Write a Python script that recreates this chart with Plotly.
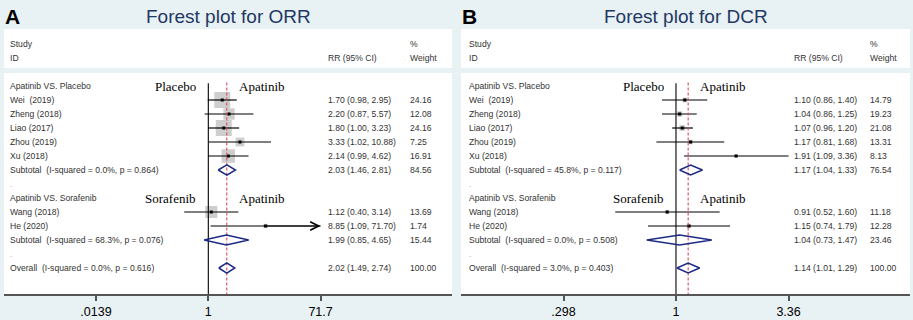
import math
import plotly.graph_objects as go

# ---------------- data ----------------
group_labels = ["Apatinib VS. Placebo", "Apatinib VS. Sorafenib"]
comparators = ["Placebo", "Sorafenib"]
treatment = "Apatinib"
group_sizes = [5, 2]
studies = ["Wei  (2019)", "Zheng (2018)", "Liao (2017)", "Zhou (2019)", "Xu (2018)",
           "Wang (2018)", "He (2020)"]

# ORR
orr_rr = [1.70, 2.20, 1.80, 3.33, 2.14, 1.12, 8.85]
orr_lo = [0.98, 0.87, 1.00, 1.02, 0.99, 0.40, 1.09]
orr_hi = [2.95, 5.57, 3.23, 10.88, 4.62, 3.14, 71.70]
orr_truncated = [0, 0, 0, 0, 0, 0, 1]
orr_w = [24.16, 12.08, 24.16, 7.25, 16.91, 13.69, 1.74]
orr_sub_het = ["Subtotal  (I-squared = 0.0%, p = 0.864)", "Subtotal  (I-squared = 68.3%, p = 0.076)"]
orr_sub_rr = [2.03, 1.99]
orr_sub_lo = [1.46, 0.85]
orr_sub_hi = [2.81, 4.65]
orr_sub_w = [84.56, 15.44]
orr_all_het = "Overall  (I-squared = 0.0%, p = 0.616)"
orr_all = [2.02, 1.49, 2.74, 100.00]
orr_ticks = [0.0139, 1, 71.7]
orr_ticktext = [".0139", "1", "71.7"]

# DCR
dcr_rr = [1.10, 1.04, 1.07, 1.17, 1.91, 0.91, 1.15]
dcr_lo = [0.86, 0.86, 0.96, 0.81, 1.09, 0.52, 0.74]
dcr_hi = [1.40, 1.25, 1.20, 1.68, 3.36, 1.60, 1.79]
dcr_truncated = [0, 0, 0, 0, 0, 0, 0]
dcr_w = [14.79, 19.23, 21.08, 13.31, 8.13, 11.18, 12.28]
dcr_sub_het = ["Subtotal  (I-squared = 45.8%, p = 0.117)", "Subtotal  (I-squared = 0.0%, p = 0.508)"]
dcr_sub_rr = [1.17, 1.04]
dcr_sub_lo = [1.04, 0.73]
dcr_sub_hi = [1.33, 1.47]
dcr_sub_w = [76.54, 23.46]
dcr_all_het = "Overall  (I-squared = 3.0%, p = 0.403)"
dcr_all = [1.14, 1.01, 1.29, 100.00]
dcr_ticks = [0.298, 1, 3.36]
dcr_ticktext = [".298", "1", "3.36"]

# ---------------- style ----------------
W, H = 913, 320
BG = "#e8f1f3"
NAVY = "#1c2a84"
TITLE_C = "#1f3864"
TXT = "#333333"
SANS = "Liberation Sans, Arial, sans-serif"
SERIF = "Liberation Serif, Times New Roman, serif"
FS = 8.6


def px(x):
    return x / W


def py(y):
    return 1 - y / H


PLOT_TOP, PLOT_BOT = 73, 294
ROW0, PITCH = 86, 14.0
yr = [(PLOT_BOT - ROW0) / PITCH, (PLOT_TOP - ROW0) / PITCH]

panels = [
    dict(letter="A", title="Forest plot for ORR", rr=orr_rr, lo=orr_lo, hi=orr_hi, w=orr_w,
         trunc=orr_truncated,
         sub_het=orr_sub_het, sub_rr=orr_sub_rr, sub_lo=orr_sub_lo, sub_hi=orr_sub_hi,
         sub_w=orr_sub_w, all_het=orr_all_het, all=orr_all, ticks=orr_ticks,
         ticktext=orr_ticktext, x0=4, x1=452, xr=[-3.377, 4.028],
         col_rr=326, col_w=408, col_s=8, box_k=3.26, lab_l=198, lab_r=237),
    dict(letter="B", title="Forest plot for DCR", rr=dcr_rr, lo=dcr_lo, hi=dcr_hi, w=dcr_w,
         trunc=dcr_truncated,
         sub_het=dcr_sub_het, sub_rr=dcr_sub_rr, sub_lo=dcr_sub_lo, sub_hi=dcr_sub_hi,
         sub_w=dcr_sub_w, all_het=dcr_all_het, all=dcr_all, ticks=dcr_ticks,
         ticktext=dcr_ticktext, x0=461, x1=910, xr=[-1.005, 1.094],
         col_rr=792, col_w=868, col_s=467, box_k=1.25, lab_l=666, lab_r=698),
]

fig = go.Figure()
annotations = []
shapes = []

for i, p in enumerate(panels):
    xa = "x" if i == 0 else "x2"
    ya = "y" if i == 0 else "y2"
    # build row structure
    rows_study, rows_sub, rows_head, rows_dot = [], [], [], []
    r = 0
    for g, n in enumerate(group_sizes):
        rows_head.append(r)
        r += 1
        for _ in range(n):
            rows_study.append(r)
            r += 1
        rows_sub.append(r)
        r += 1
        rows_dot.append(r)
        r += 1
    row_all = r

    # weight boxes
    fig.add_trace(go.Scatter(
        x=p["rr"], y=rows_study, mode="markers", xaxis=xa, yaxis=ya,
        marker=dict(symbol="square", color="#b9b9b9",
                    size=[p["box_k"] * math.sqrt(v) for v in p["w"]], line=dict(width=0)),
        hoverinfo="skip", showlegend=False))
    # CI lines
    lx, ly = [], []
    for lo, hi, rr_ in zip(p["lo"], p["hi"], rows_study):
        lx += [lo, hi, None]
        ly += [rr_, rr_, None]
    fig.add_trace(go.Scatter(x=lx, y=ly, mode="lines", xaxis=xa, yaxis=ya,
                             line=dict(color="black", width=1.2), hoverinfo="skip",
                             showlegend=False))
    for lo, hi, est, rr_, t in zip(p["lo"], p["hi"], p["rr"], rows_study, p["trunc"]):
        if t:
            annotations.append(dict(x=math.log10(hi), y=rr_, ax=math.log10(est), ay=rr_,
                                    xref=xa, yref=ya, axref=xa, ayref=ya, text="",
                                    showarrow=True, arrowhead=5, arrowsize=1.4,
                                    arrowwidth=1.2, arrowcolor="black", standoff=0))
    # point estimates
    fig.add_trace(go.Scatter(
        x=p["rr"], y=rows_study, mode="markers", xaxis=xa, yaxis=ya,
        marker=dict(symbol="square", color="black", size=3), hoverinfo="skip",
        showlegend=False))
    # reference lines
    fig.add_trace(go.Scatter(x=[1, 1], y=[-0.2, yr[0]], mode="lines", xaxis=xa, yaxis=ya,
                             line=dict(color="black", width=1.1), hoverinfo="skip",
                             showlegend=False))
    fig.add_trace(go.Scatter(x=[p["all"][0]] * 2, y=[-0.25, yr[0]], mode="lines",
                             xaxis=xa, yaxis=ya,
                             line=dict(color="#d9485e", width=1.1, dash="3px,2px"),
                             hoverinfo="skip", showlegend=False))
    # diamonds
    dx, dy = [], []
    hh = 0.36
    for est, lo, hi, rr_ in list(zip(p["sub_rr"], p["sub_lo"], p["sub_hi"], rows_sub)) + \
            [(p["all"][0], p["all"][1], p["all"][2], row_all)]:
        dx += [lo, est, hi, est, lo, None]
        dy += [rr_, rr_ - hh, rr_, rr_ + hh, rr_, None]
    fig.add_trace(go.Scatter(x=dx, y=dy, mode="lines", xaxis=xa, yaxis=ya,
                             line=dict(color=NAVY, width=1.5), hoverinfo="skip",
                             showlegend=False))

    # ---- text ----
    def txt(x, y, s, yref=ya, size=FS, font=SANS, color=TXT, xanchor="left"):
        annotations.append(dict(x=px(x), y=y, xref="paper", yref=yref, text=s,
                                showarrow=False, xanchor=xanchor, yanchor="middle",
                                font=dict(family=font, size=size, color=color)))

    txt(p["col_s"], py(44), "Study", yref="paper")
    txt(p["col_s"], py(58), "ID", yref="paper")
    txt(p["col_rr"], py(58), "RR (95% CI)", yref="paper")
    txt(p["col_w"], py(44), "%", yref="paper")
    txt(p["col_w"], py(58), "Weight", yref="paper")

    for g, rh in enumerate(rows_head):
        txt(p["col_s"], rh, group_labels[g])
        txt(p["lab_l"], rh + 0.05, comparators[g], size=13, font=SERIF, color="black",
            xanchor="right")
        txt(p["lab_r"], rh + 0.05, treatment, size=13, font=SERIF, color="black")
    for rd in rows_dot:
        txt(p["col_s"], rd, ".", color="#aaaaaa")
    for j, rs in enumerate(rows_study):
        txt(p["col_s"], rs, studies[j])
        txt(p["col_rr"], rs, "%.2f (%.2f, %.2f)" % (p["rr"][j], p["lo"][j], p["hi"][j]))
        txt(p["col_w"], rs, "%.2f" % p["w"][j])
    for j, rs in enumerate(rows_sub):
        txt(p["col_s"], rs, p["sub_het"][j])
        txt(p["col_rr"], rs, "%.2f (%.2f, %.2f)" % (p["sub_rr"][j], p["sub_lo"][j], p["sub_hi"][j]))
        txt(p["col_w"], rs, "%.2f" % p["sub_w"][j])
    txt(p["col_s"], row_all, p["all_het"])
    txt(p["col_rr"], row_all, "%.2f (%.2f, %.2f)" % tuple(p["all"][:3]))
    txt(p["col_w"], row_all, "%.2f" % p["all"][3])

    # panel title and letter
    annotations.append(dict(x=px((p["x0"] + p["x1"]) / 2), y=py(17), xref="paper", yref="paper",
                            text=p["title"], showarrow=False, xanchor="center",
                            yanchor="middle",
                            font=dict(family=SANS, size=19, color=TITLE_C)))
    annotations.append(dict(x=px(p["x0"] - 1), y=py(16), xref="paper", yref="paper",
                            text="<b>%s</b>" % p["letter"], showarrow=False, xanchor="left",
                            yanchor="middle", font=dict(family=SANS, size=21, color="black")))
    # header white box
    shapes.append(dict(type="rect", xref="paper", yref="paper", x0=px(p["x0"]), x1=px(p["x1"]),
                       y0=py(68), y1=py(29), fillcolor="white", line=dict(width=0),
                       layer="below"))

axis_common = dict(type="log", showgrid=False, zeroline=False, showline=True,
                   linecolor="#555555", linewidth=2, ticks="outside", ticklen=5,
                   tickwidth=1.5, tickcolor="#555555", automargin=False,
                   tickfont=dict(family=SANS, size=12.5, color="black"), fixedrange=True)
yaxis_common = dict(range=yr, visible=False, showgrid=False, zeroline=False,
                    domain=[py(PLOT_BOT), py(PLOT_TOP)], fixedrange=True)

fig.update_layout(
    width=W, height=H, margin=dict(l=0, r=0, t=0, b=0),
    paper_bgcolor=BG, plot_bgcolor="white", showlegend=False,
    xaxis=dict(axis_common, domain=[px(panels[0]["x0"]), px(panels[0]["x1"])],
               range=panels[0]["xr"], tickvals=panels[0]["ticks"],
               ticktext=panels[0]["ticktext"], anchor="y"),
    yaxis=dict(yaxis_common, anchor="x"),
    xaxis2=dict(axis_common, domain=[px(panels[1]["x0"]), px(panels[1]["x1"])],
                range=panels[1]["xr"], tickvals=panels[1]["ticks"],
                ticktext=panels[1]["ticktext"], anchor="y2"),
    yaxis2=dict(yaxis_common, anchor="x2"),
    annotations=annotations, shapes=shapes,
)

fig.write_html("out.html", config={"displayModeBar": False},
               post_script="document.body.style.margin='0';document.body.style.overflow='hidden';")
